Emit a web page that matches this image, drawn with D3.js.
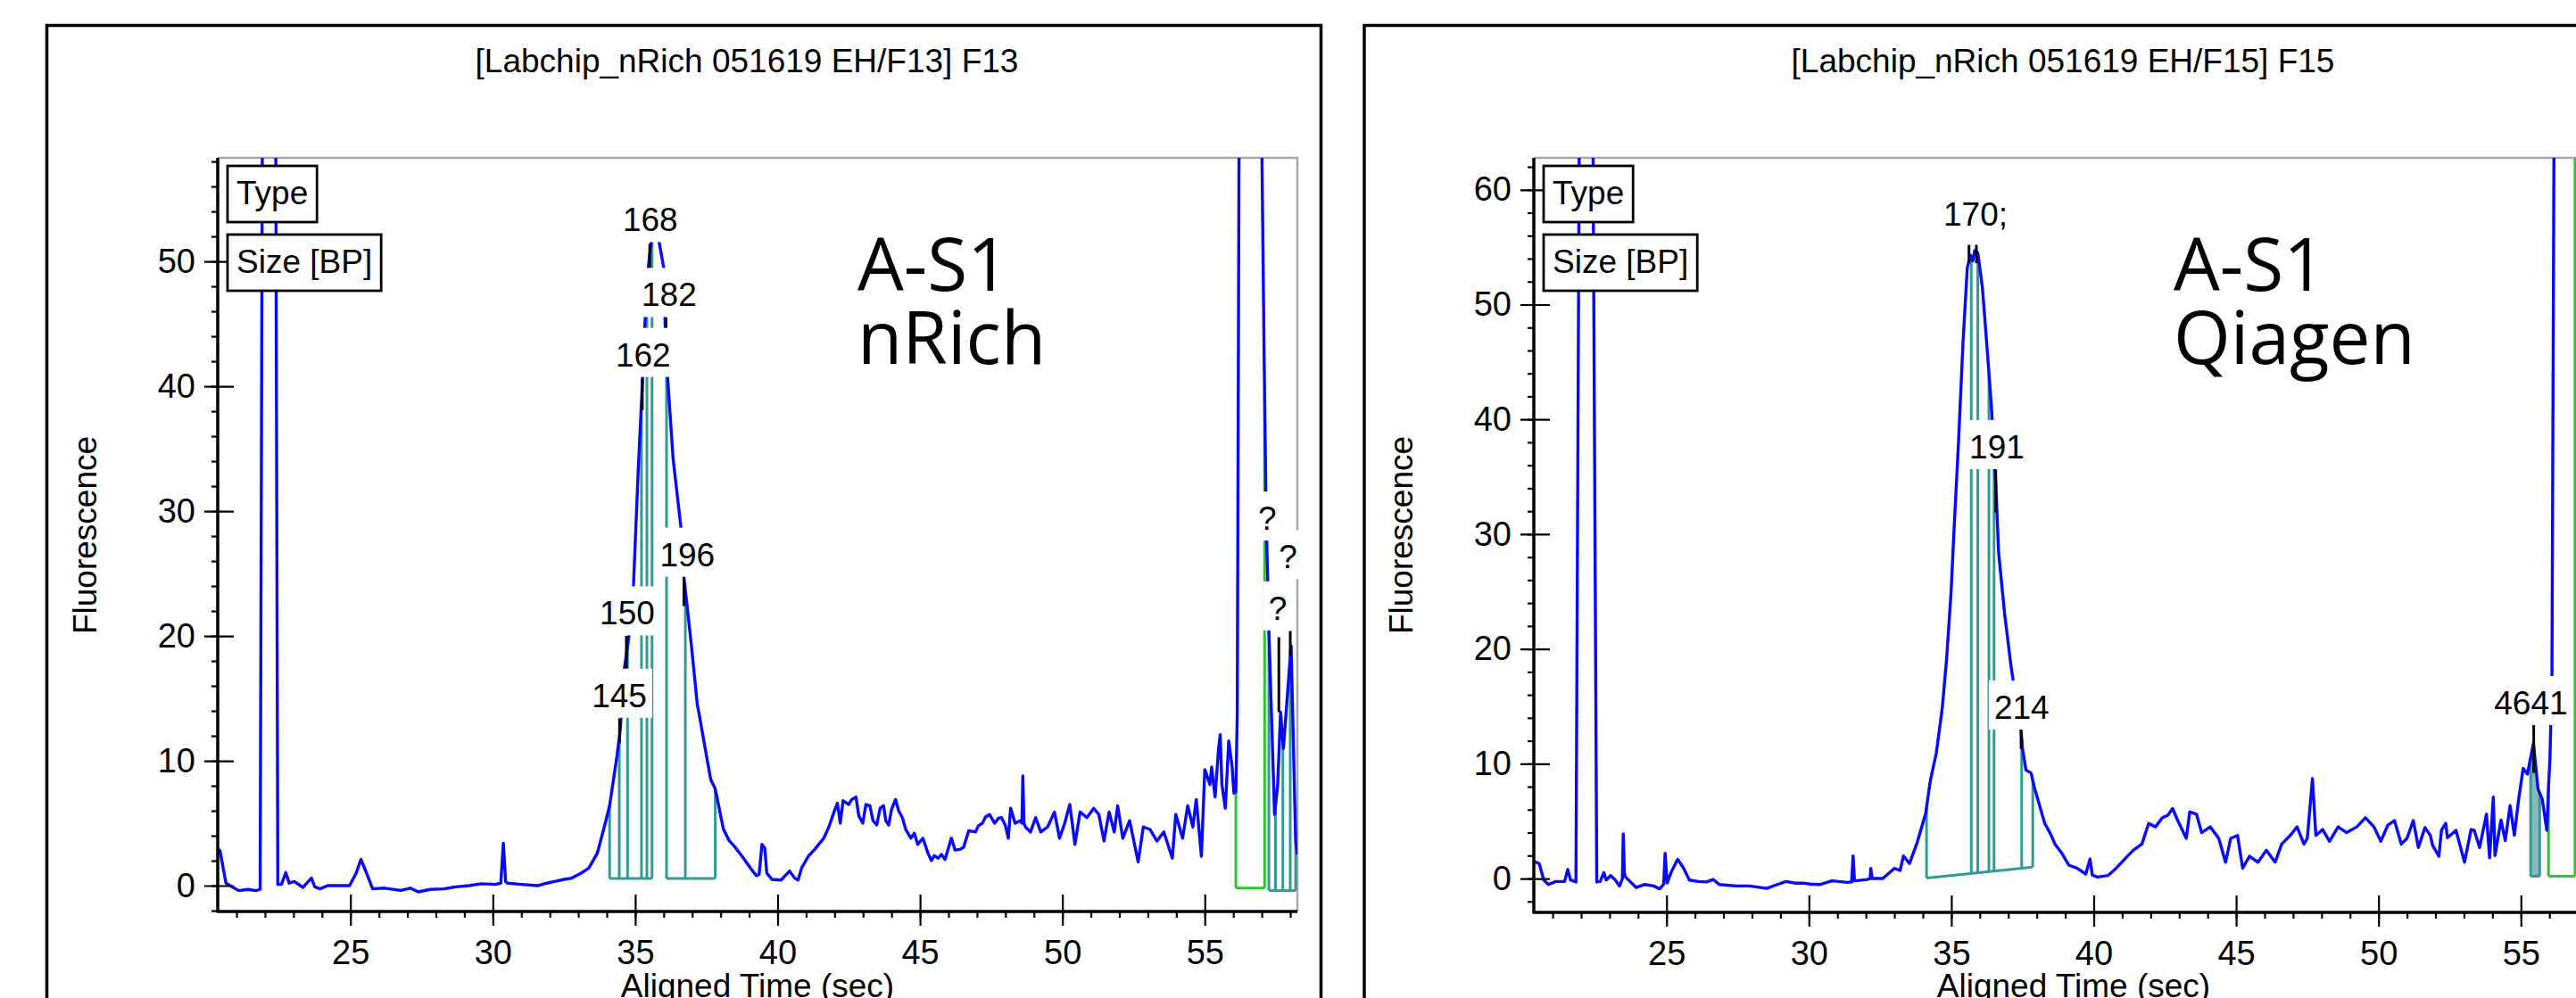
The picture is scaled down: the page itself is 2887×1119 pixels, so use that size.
<!DOCTYPE html>
<html>
<head>
<meta charset="utf-8">
<script src="https://d3js.org/d3.v7.min.js"></script>
<style>
body { margin:0; background:#fff; }
svg { display:block; }
</style>
</head>
<body>
<svg id="chart" width="2887" height="1119"></svg>
<script>

var xDomain = [20.34, 58.25];
var leftYDomain = [-2.07, 58.29];
var rightYDomain = [-2.95, 62.78];

var xTicks = [25, 30, 35, 40, 45, 50, 55];
var xMinorTicks = d3.range(21, 59, 1);
var leftYTicks = [0, 10, 20, 30, 40, 50];
var rightYTicks = [0, 10, 20, 30, 40, 50, 60];
var yMinorStep = 2;

var leftTitle = "[Labchip_nRich 051619 EH/F13] F13";
var rightTitle = "[Labchip_nRich 051619 EH/F15] F15";
var xLabel = "Aligned Time (sec)";
var yLabel = "Fluorescence";
var legendItems = ["Type", "Size [BP]"];
var leftNote = ["A-S1", "nRich"];
var rightNote = ["A-S1", "Qiagen"];

// [time, fluorescence]
var leftTrace = [
    [20.34, 3.0], [20.42, 2.8], [20.63, 0.2], [21.08, -0.4], [21.4, -0.3], [21.68, -0.4], [21.83, -0.3],
    [22.15, 250], [22.45, 0.1], [22.58, 0.1], [22.73, 1.05], [22.85, 0.2], [23.03, 0.33], [23.33, -0.14],
    [23.63, 0.6], [23.75, -0.1], [23.93, -0.26], [24.2, 0.0], [24.53, 0.0], [24.97, 0.0], [25.2, 1.0],
    [25.37, 2.1], [25.58, 0.93], [25.78, -0.26], [26.2, -0.2], [26.77, -0.38], [27.1, -0.2], [27.38, -0.5],
    [27.8, -0.3], [28.28, -0.26], [28.7, -0.1], [29.17, 0.0], [29.6, 0.15], [30.08, 0.1], [30.28, 0.2],
    [30.37, 3.4], [30.45, 0.3], [30.52, 0.2], [31.0, 0.1], [31.57, 0.0], [31.9, 0.2], [32.17, 0.33],
    [32.5, 0.5], [32.77, 0.6], [33.1, 1.0], [33.37, 1.4], [33.67, 2.6], [33.97, 5.2], [34.1, 6.4],
    [34.36, 10.4], [34.47, 12.4], [34.62, 17.4], [34.78, 20.0], [34.94, 24.1], [35.1, 33.0], [35.25, 40.2],
    [35.34, 45.0], [35.46, 49.5], [35.55, 51.4], [35.7, 53.0], [35.85, 51.4], [36.0, 49.5], [36.05, 45.0],
    [36.14, 40.6], [36.33, 34.2], [36.61, 28.6], [36.71, 24.7], [36.97, 19.3], [37.18, 14.5], [37.24, 13.8],
    [37.44, 11.2], [37.65, 8.5], [37.8, 7.8], [37.86, 7.2], [38.0, 5.6], [38.1, 4.5], [38.3, 3.6],
    [38.5, 3.1], [38.8, 2.2], [39.05, 1.4], [39.25, 0.8], [39.35, 0.9], [39.45, 3.3], [39.55, 3.0],
    [39.62, 1.0], [39.8, 0.5], [40.12, 0.45], [40.42, 1.17], [40.6, 0.6], [40.72, 0.45], [40.84, 1.4],
    [41.08, 2.36], [41.3, 2.9], [41.44, 3.3], [41.62, 3.8], [41.8, 4.7], [41.98, 5.9], [42.1, 6.6],
    [42.2, 5.0], [42.3, 6.8], [42.5, 6.5], [42.6, 6.9], [42.75, 7.1], [42.85, 5.6], [42.99, 5.0],
    [43.1, 6.5], [43.24, 6.4], [43.35, 5.2], [43.48, 4.86], [43.6, 6.2], [43.72, 6.4], [43.8, 5.2],
    [43.9, 4.86], [44.0, 6.1], [44.14, 6.9], [44.25, 6.0], [44.38, 5.45], [44.5, 4.5], [44.68, 3.8],
    [44.8, 4.2], [44.92, 3.3], [45.1, 3.8], [45.28, 2.6], [45.4, 2.0], [45.5, 2.4], [45.64, 2.2],
    [45.75, 2.5], [45.88, 2.1], [46.1, 3.8], [46.23, 2.85], [46.4, 2.9], [46.53, 3.07], [46.71, 4.4],
    [46.95, 4.3], [47.05, 4.8], [47.19, 5.0], [47.3, 5.5], [47.44, 5.7], [47.62, 5.0], [47.75, 5.4],
    [47.86, 5.45], [48.0, 4.8], [48.1, 3.8], [48.18, 6.2], [48.34, 5.0], [48.52, 5.2], [48.58, 5.0],
    [48.61, 8.8], [48.65, 5.0], [48.7, 4.7], [48.88, 4.3], [49.06, 5.45], [49.24, 4.3], [49.48, 4.7],
    [49.72, 5.9], [49.9, 3.8], [50.08, 5.0], [50.26, 6.5], [50.44, 3.3], [50.62, 5.9], [50.86, 5.45],
    [51.1, 6.2], [51.28, 5.7], [51.46, 3.57], [51.64, 5.9], [51.82, 4.3], [51.94, 6.4], [52.12, 3.8],
    [52.36, 5.2], [52.66, 1.9], [52.84, 4.7], [53.08, 4.5], [53.32, 3.57], [53.56, 4.3], [53.86, 2.2],
    [53.98, 5.7], [54.22, 3.8], [54.4, 6.4], [54.58, 4.7], [54.7, 6.9], [54.88, 2.36], [55.0, 9.3],
    [55.18, 8.1], [55.24, 9.5], [55.36, 7.1], [55.48, 10.9], [55.54, 12.1], [55.6, 8.1], [55.72, 6.2],
    [55.84, 11.6], [55.96, 9.5], [56.02, 7.4], [56.09, 7.5], [56.14, 13.8], [56.33, 153], [57.0, 60],
    [57.08, 43], [57.15, 30], [57.25, 20.4], [57.45, 5.7], [57.56, 8.1], [57.66, 13.9], [57.76, 11.0],
    [58.03, 19.2], [58.19, 3.6], [58.25, 2.5]
];

var rightTrace = [
    [20.34, 1.5], [20.53, 1.3], [20.69, -0.13], [20.85, -0.52], [21.11, -0.26], [21.42, -0.26], [21.53, 0.78],
    [21.63, -0.13], [21.82, -0.3], [22.16, 190], [22.55, -0.3], [22.67, -0.26], [22.8, 0.52], [22.88, -0.13],
    [23.04, 0.26], [23.2, -0.13], [23.35, -0.65], [23.45, 0.0], [23.48, 3.9], [23.52, 0.5], [23.56, 0.13],
    [23.72, -0.26], [23.93, -0.78], [24.24, -0.52], [24.55, -0.65], [24.76, -0.9], [24.9, -0.5], [24.95, 2.2],
    [25.02, -0.39], [25.18, 0.65], [25.39, 1.68], [25.6, 0.9], [25.8, -0.13], [26.12, -0.26], [26.4, -0.3],
    [26.64, -0.08], [26.85, -0.52], [27.2, -0.6], [27.48, -0.65], [27.9, -0.65], [28.31, -0.78], [28.52, -0.86],
    [28.8, -0.6], [29.2, -0.26], [29.5, -0.4], [29.77, -0.4], [30.1, -0.5], [30.4, -0.52], [30.81, -0.2],
    [31.34, -0.34], [31.5, -0.3], [31.55, 1.97], [31.6, -0.2], [32.0, -0.1], [32.15, 0.0], [32.17, 0.88],
    [32.22, 0.0], [32.59, 0.0], [33.0, 0.88], [33.2, 0.7], [33.32, 1.97], [33.53, 1.3], [33.79, 3.06],
    [34.1, 5.67], [34.26, 8.5], [34.47, 10.9], [34.68, 14.8], [34.83, 19.0], [34.99, 24.9], [35.09, 30.1],
    [35.25, 37.9], [35.41, 46.7], [35.56, 53.2], [35.67, 54.3], [35.75, 53.8], [35.82, 54.7], [35.93, 54.5],
    [36.09, 51.5], [36.24, 46.7], [36.4, 41.4], [36.56, 34.5], [36.66, 28.4], [36.87, 23.1], [37.08, 18.8],
    [37.3, 15.0], [37.44, 13.1], [37.5, 11.3], [37.62, 9.45], [37.8, 9.2], [37.92, 7.9], [38.1, 6.35],
    [38.28, 4.8], [38.46, 4.0], [38.64, 3.0], [38.88, 2.2], [39.12, 1.17], [39.41, 0.9], [39.72, 0.39],
    [39.87, 1.7], [39.95, 0.3], [40.13, 0.13], [40.5, 0.26], [40.79, 0.9], [41.09, 1.7], [41.39, 2.46],
    [41.69, 3.0], [41.93, 4.8], [42.17, 4.5], [42.41, 5.3], [42.6, 5.5], [42.77, 6.1], [42.95, 5.05],
    [43.25, 3.5], [43.37, 5.8], [43.61, 5.6], [43.79, 4.0], [44.09, 4.5], [44.39, 3.5], [44.63, 1.42],
    [44.81, 3.5], [45.05, 3.75], [45.23, 0.9], [45.47, 1.94], [45.77, 1.42], [46.06, 2.46], [46.37, 1.42],
    [46.6, 3.0], [46.9, 3.75], [47.14, 4.5], [47.38, 3.0], [47.5, 3.5], [47.68, 8.7], [47.8, 3.75],
    [48.04, 4.27], [48.28, 3.24], [48.58, 4.5], [48.88, 4.0], [49.24, 4.5], [49.54, 5.3], [49.84, 4.5],
    [50.08, 3.24], [50.33, 4.66], [50.56, 5.05], [50.8, 3.0], [51.0, 3.5], [51.22, 5.05], [51.4, 2.7],
    [51.63, 4.44], [51.82, 3.75], [51.9, 2.88], [52.12, 1.94], [52.21, 4.2], [52.36, 4.8], [52.42, 3.55],
    [52.72, 4.2], [53.02, 1.42], [53.25, 4.27], [53.36, 4.2], [53.55, 2.7], [53.79, 5.6], [53.9, 1.8],
    [54.03, 7.1], [54.09, 2.0], [54.3, 5.1], [54.45, 3.3], [54.62, 6.35], [54.77, 3.77], [54.92, 6.9],
    [55.08, 9.6], [55.23, 9.1], [55.44, 11.8], [55.6, 7.8], [55.75, 6.9], [55.91, 4.2], [55.97, 8.0],
    [56.02, 10.5], [56.09, 17.6], [56.4, 220], [57.0, 100], [58.25, 5]
];

// integration regions: boundary times and baseline value at first / last boundary
var leftRegions = [
    { kind: "peak", bounds: [34.10, 34.44, 34.73, 35.22, 35.41, 35.59], base: [0.57, 0.57] },
    { kind: "peak", bounds: [36.10, 36.76, 37.81], base: [0.57, 0.57] },
    { kind: "marker", bounds: [56.09, 57.10], base: [-0.2, -0.2] },
    { kind: "peak", bounds: [57.25, 57.48, 57.74, 58.0, 58.19], base: [-0.4, -0.4] }
];
var rightRegions = [
    { kind: "peak", bounds: [34.13, 35.70, 35.93, 36.32, 36.50, 37.47, 37.86], base: [0.05, 1.0] },
    { kind: "selected", bounds: [55.34, 55.66], base: [0.2, 0.2] },
    { kind: "marker", bounds: [55.97, 56.90], base: [0.2, 0.2] }
];

// peak size labels: text, time of centre, value of text baseline
var leftLabels = [
    { text: "168", t: 35.53, v: 52.4 },
    { text: "182", t: 36.19, v: 46.4 },
    { text: "162", t: 35.28, v: 41.6 },
    { text: "196", t: 36.83, v: 25.6 },
    { text: "150", t: 34.72, v: 20.9 },
    { text: "145", t: 34.44, v: 14.3 },
    { text: "?", t: 57.19, v: 28.5 },
    { text: "?", t: 57.92, v: 25.4 },
    { text: "?", t: 57.56, v: 21.3 }
];
var rightLabels = [
    { text: "170;", t: 35.85, v: 56.9 },
    { text: "191", t: 36.60, v: 36.6 },
    { text: "214", t: 37.47, v: 13.9 },
    { text: "4641", t: 55.35, v: 14.3 }
];

// black peak markers: time, top value, bottom value
var leftMarkers = [
    [34.45, 13.4, 11.4], [34.69, 20.0, 17.4], [35.25, 40.6, 38.1], [35.51, 51.4, 49.5],
    [36.08, 45.5, 44.5], [36.71, 24.6, 22.4], [57.6, 19.9, 13.9], [58.0, 20.4, 18.4]
];
var rightMarkers = [
    [35.62, 55.2, 53.6], [35.88, 55.2, 53.6], [36.56, 35.6, 31.9], [37.45, 13.1, 11.3], [55.45, 13.4, 9.2]
];


var svg = d3.select("#chart");
var FONT = "'Liberation Sans', Arial, sans-serif";
var regionColor = { peak: "#2f9a96", selected: "#2f9a96", marker: "#2ec42e" };

function valueAt(trace, t) {
    var i = d3.bisector(function(d){ return d[0]; }).left(trace, t);
    if (i <= 0) return trace[0][1];
    if (i >= trace.length) return trace[trace.length - 1][1];
    var a = trace[i - 1], b = trace[i];
    return a[1] + (b[1] - a[1]) * (t - a[0]) / (b[0] - a[0]);
}

function drawPanel(p) {
    var g = svg.append("g");

    g.append("rect")
        .attr("x", p.frame[0]).attr("y", p.frame[1])
        .attr("width", p.frame[2]).attr("height", p.frame[3])
        .attr("fill", "none").attr("stroke", "#000").attr("stroke-width", 3.5);

    var x = d3.scaleLinear().domain(xDomain).range([p.left, p.right]);
    var y = d3.scaleLinear().domain(p.yDomain).range([p.bottom, p.top]);

    g.append("text")
        .attr("x", (p.left + p.right) / 2 - 12).attr("y", 81)
        .attr("text-anchor", "middle")
        .attr("font-family", FONT).attr("font-size", 37)
        .text(p.title);

    // gray top / right border
    g.append("path")
        .attr("d", "M" + p.left + "," + p.top + "H" + p.right + "V" + p.bottom)
        .attr("fill", "none").attr("stroke", "#a9a9a9").attr("stroke-width", 2.5);

    var clipId = "clip" + p.id;
    svg.append("clipPath").attr("id", clipId)
        .append("rect").attr("x", p.left).attr("y", p.top)
        .attr("width", p.right - p.left).attr("height", p.bottom - p.top);

    var plot = g.append("g").attr("clip-path", "url(#" + clipId + ")");

    // regions
    p.regions.forEach(function(r){
        var t0 = r.bounds[0], t1 = r.bounds[r.bounds.length - 1];
        var base = d3.scaleLinear().domain([t0, t1]).range(r.base);
        var col = regionColor[r.kind];
        if (r.kind === "selected") {
            var pts = p.trace.filter(function(d){ return d[0] > t0 && d[0] < t1; });
            pts = [[t0, valueAt(p.trace, t0)]].concat(pts, [[t1, valueAt(p.trace, t1)], [t1, base(t1)], [t0, base(t0)]]);
            plot.append("path")
                .attr("d", d3.line().x(function(d){ return x(d[0]); }).y(function(d){ return y(d[1]); })(pts) + "Z")
                .attr("fill", "#86b9b9").attr("stroke", "none");
        }
        plot.append("line")
            .attr("x1", x(t0)).attr("y1", y(base(t0)))
            .attr("x2", x(t1)).attr("y2", y(base(t1)))
            .attr("stroke", col).attr("stroke-width", 3);
        plot.selectAll(null).data(r.bounds).enter().append("line")
            .attr("x1", function(t){ return x(t); })
            .attr("x2", function(t){ return x(t); })
            .attr("y1", function(t){ return y(base(t)); })
            .attr("y2", function(t){ return y(valueAt(p.trace, t)); })
            .attr("stroke", col).attr("stroke-width", 3);
    });

    plot.append("path")
        .datum(p.trace)
        .attr("d", d3.line().x(function(d){ return x(d[0]); }).y(function(d){ return y(d[1]); }))
        .attr("fill", "none").attr("stroke", "#0808ff").attr("stroke-width", 3.4)
        .attr("stroke-linejoin", "round");

    g.selectAll(null).data(p.markers).enter().append("line")
        .attr("x1", function(d){ return x(d[0]); }).attr("x2", function(d){ return x(d[0]); })
        .attr("y1", function(d){ return y(d[1]); }).attr("y2", function(d){ return y(d[2]); })
        .attr("stroke", "#000").attr("stroke-width", 3);

    // axes
    var xa = g.append("g").attr("transform", "translate(0," + p.bottom + ")");
    xa.call(d3.axisBottom(x).tickValues(xMinorTicks).tickSize(7).tickSizeOuter(0).tickFormat(""));
    xa.select(".domain").remove();
    var xb = g.append("g").attr("transform", "translate(0," + p.bottom + ")");
    xb.call(d3.axisBottom(x).tickValues(xTicks).tickSize(16).tickSizeOuter(0).tickPadding(16));
    xb.selectAll(".tick line").attr("y1", -19);
    xb.select(".domain").attr("d", "M" + p.left + ",0H" + p.right);

    var yMinor = d3.range(Math.ceil(p.yDomain[0] / yMinorStep) * yMinorStep, p.yDomain[1], yMinorStep);
    var ya = g.append("g").attr("transform", "translate(" + p.left + ",0)");
    ya.call(d3.axisLeft(y).tickValues(yMinor).tickSize(7).tickSizeOuter(0).tickFormat(""));
    ya.select(".domain").remove();
    var yb = g.append("g").attr("transform", "translate(" + p.left + ",0)");
    yb.call(d3.axisLeft(y).tickValues(p.yTicks).tickSize(15).tickSizeOuter(0).tickPadding(10));
    yb.selectAll(".tick line").attr("x1", 18);
    yb.select(".domain").attr("d", "M0," + p.top + "V" + (p.bottom + 1.5));

    [xa, xb, ya, yb].forEach(function(a){
        a.attr("font-family", FONT).attr("font-size", 38);
        a.selectAll("line").attr("stroke", "#000").attr("stroke-width", 2.2);
        a.selectAll("text").attr("fill", "#000");
        a.select(".domain").attr("stroke", "#000").attr("stroke-width", 3.5);
    });

    g.append("text")
        .attr("x", (p.left + p.right) / 2).attr("y", 1118)
        .attr("text-anchor", "middle")
        .attr("font-family", FONT).attr("font-size", 37)
        .text(xLabel);
    g.append("text")
        .attr("transform", "translate(" + (p.left - 136) + ",600) rotate(-90)")
        .attr("text-anchor", "middle")
        .attr("font-family", FONT).attr("font-size", 37)
        .text(yLabel);

    // peak labels with white backing
    p.labels.forEach(function(l){
        var lg = g.append("g");
        var t = lg.append("text")
            .attr("x", x(l.t)).attr("y", y(l.v))
            .attr("text-anchor", "middle")
            .attr("font-family", FONT).attr("font-size", 37)
            .text(l.text);
        var w = t.node().getComputedTextLength();
        lg.insert("rect", "text")
            .attr("x", x(l.t) - w / 2 - 6).attr("y", y(l.v) - 43)
            .attr("width", w + 12).attr("height", 55)
            .attr("fill", "#fff");
    });

    // legend boxes
    legendItems.forEach(function(s, i){
        var bx = p.left + 11, by = p.top + 9 + i * 77;
        var lg = g.append("g");
        var t = lg.append("text")
            .attr("x", bx + 10).attr("y", by + 43)
            .attr("font-family", FONT).attr("font-size", 37)
            .text(s);
        var w = t.node().getComputedTextLength();
        lg.insert("rect", "text")
            .attr("x", bx).attr("y", by)
            .attr("width", w + 20).attr("height", 63)
            .attr("fill", "#fff").attr("stroke", "#000").attr("stroke-width", 2.8);
    });

    p.note.forEach(function(s, i){
        g.append("text")
            .attr("x", p.left + 717).attr("y", 326 + i * 82)
            .attr("font-family", "'Open Sans', sans-serif").attr("font-size", 82)
            .attr("fill", "#000")
            .text(s);
    });
}

drawPanel({
    id: "L", frame: [52.5, 28.5, 1428, 1130],
    left: 244, right: 1454, top: 177, bottom: 1022,
    yDomain: leftYDomain, yTicks: leftYTicks, title: leftTitle,
    trace: leftTrace, regions: leftRegions, labels: leftLabels, markers: leftMarkers, note: leftNote
});

drawPanel({
    id: "R", frame: [1529, 28.5, 1500, 1130],
    left: 1719, right: 2929, top: 177, bottom: 1023,
    yDomain: rightYDomain, yTicks: rightYTicks, title: rightTitle,
    trace: rightTrace, regions: rightRegions, labels: rightLabels, markers: rightMarkers, note: rightNote
});

</script>
</body>
</html>
